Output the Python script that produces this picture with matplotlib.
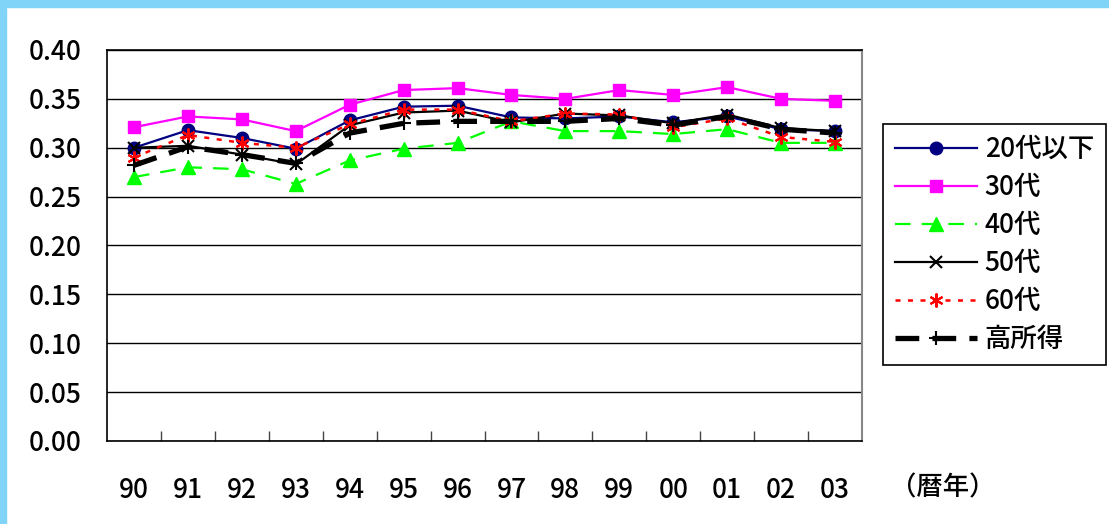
import numpy as np
import matplotlib.pyplot as plt
from matplotlib.patches import Rectangle

plt.rcParams['font.family'] = ['Noto Sans CJK JP', 'DejaVu Sans']
plt.rcParams['font.weight'] = 'medium'

years = ['90', '91', '92', '93', '94', '95', '96', '97', '98', '99', '00', '01', '02', '03']

age20 = [0.300, 0.318, 0.310, 0.299, 0.328, 0.342, 0.343, 0.331, 0.330, 0.332, 0.326, 0.332, 0.319, 0.317]
age30 = [0.321, 0.332, 0.329, 0.317, 0.344, 0.359, 0.361, 0.354, 0.350, 0.359, 0.354, 0.362, 0.350, 0.348]
age40 = [0.270, 0.280, 0.278, 0.263, 0.287, 0.299, 0.305, 0.327, 0.317, 0.317, 0.314, 0.319, 0.305, 0.305]
age50 = [0.300, 0.302, 0.293, 0.283, 0.323, 0.336, 0.338, 0.326, 0.335, 0.333, 0.325, 0.334, 0.320, 0.317]
age60 = [0.290, 0.313, 0.305, 0.300, 0.324, 0.339, 0.339, 0.327, 0.335, 0.334, 0.321, 0.330, 0.311, 0.306]
high_income = [0.282, 0.301, 0.293, 0.284, 0.315, 0.325, 0.327, 0.327, 0.327, 0.330, 0.323, 0.332, 0.319, 0.315]

fig = plt.figure(figsize=(11.09, 5.24), dpi=100)
ax = fig.add_axes([0.0965, 0.1584, 0.6808, 0.7462])

# light blue frame strips along the top and left edge
fig.patches.append(Rectangle((0, 1 - 7 / 524), 1, 7 / 524, transform=fig.transFigure,
                             color='#80d4f8', zorder=0))
fig.patches.append(Rectangle((0, 0), 6 / 1109, 1, transform=fig.transFigure,
                             color='#80d4f8', zorder=0))

x = np.arange(len(years))

ax.plot(x, age20, color='#000080', lw=1.6, marker='o', ms=9, label='20代以下')
ax.plot(x, age30, color='#ff00ff', lw=1.6, marker='s', ms=8.5, label='30代')
ax.plot(x, age40, color='#00ff00', lw=1.6, ls=(0, (7, 5)), marker='^', ms=9.5, label='40代')
ax.plot(x, age50, color='black', lw=1.6, marker='x', ms=8, mew=1.5, label='50代')
ax.plot(x, age60, color='red', lw=1.8, ls=(0, (2, 3)), marker=(6, 2, 0), ms=10, mew=1.5, label='60代')
ax.plot(x, high_income, color='black', lw=3.8, ls=(0, (4.5, 2.5)), marker='+', ms=10, mew=1.5,
        label='高所得')

ax.set_xlim(-0.5, len(years) - 0.5)
ax.set_ylim(0, 0.40)
ax.set_yticks(np.arange(0, 0.401, 0.05))
ax.set_yticklabels(['%.2f' % v for v in np.arange(0, 0.401, 0.05)], fontsize=19)
ax.yaxis.grid(True, color='black', lw=1)
ax.set_axisbelow(True)
ax.tick_params(axis='y', length=0, pad=18)

ax.set_xticks(x)
ax.set_xticklabels(years, fontsize=19)
ax.set_xticks(np.arange(0.5, len(years) - 1, 1), minor=True)
ax.tick_params(axis='x', which='major', length=0, pad=26)
ax.tick_params(axis='x', which='minor', direction='in', length=7, width=1, color='#444444')

for side in ['left', 'bottom', 'top']:
    ax.spines[side].set_color('black')
    ax.spines[side].set_linewidth(1.2)
ax.spines['right'].set_color('#888888')
ax.spines['right'].set_linewidth(1.5)

fig.text(890 / 1109, 1 - 488 / 524, '（暦年）', fontsize=19, va='center', ha='left')

leg = ax.legend(loc='upper left', bbox_to_anchor=(883 / 1109, 1 - 124 / 524),
                bbox_transform=fig.transFigure, fontsize=19, numpoints=1,
                handlelength=3.1, handletextpad=0.3, labelspacing=0.42,
                borderpad=0.45, borderaxespad=0, fancybox=False, framealpha=1,
                edgecolor='black')
leg.get_frame().set_linewidth(1.2)

fig.savefig('out.png', dpi=100)
